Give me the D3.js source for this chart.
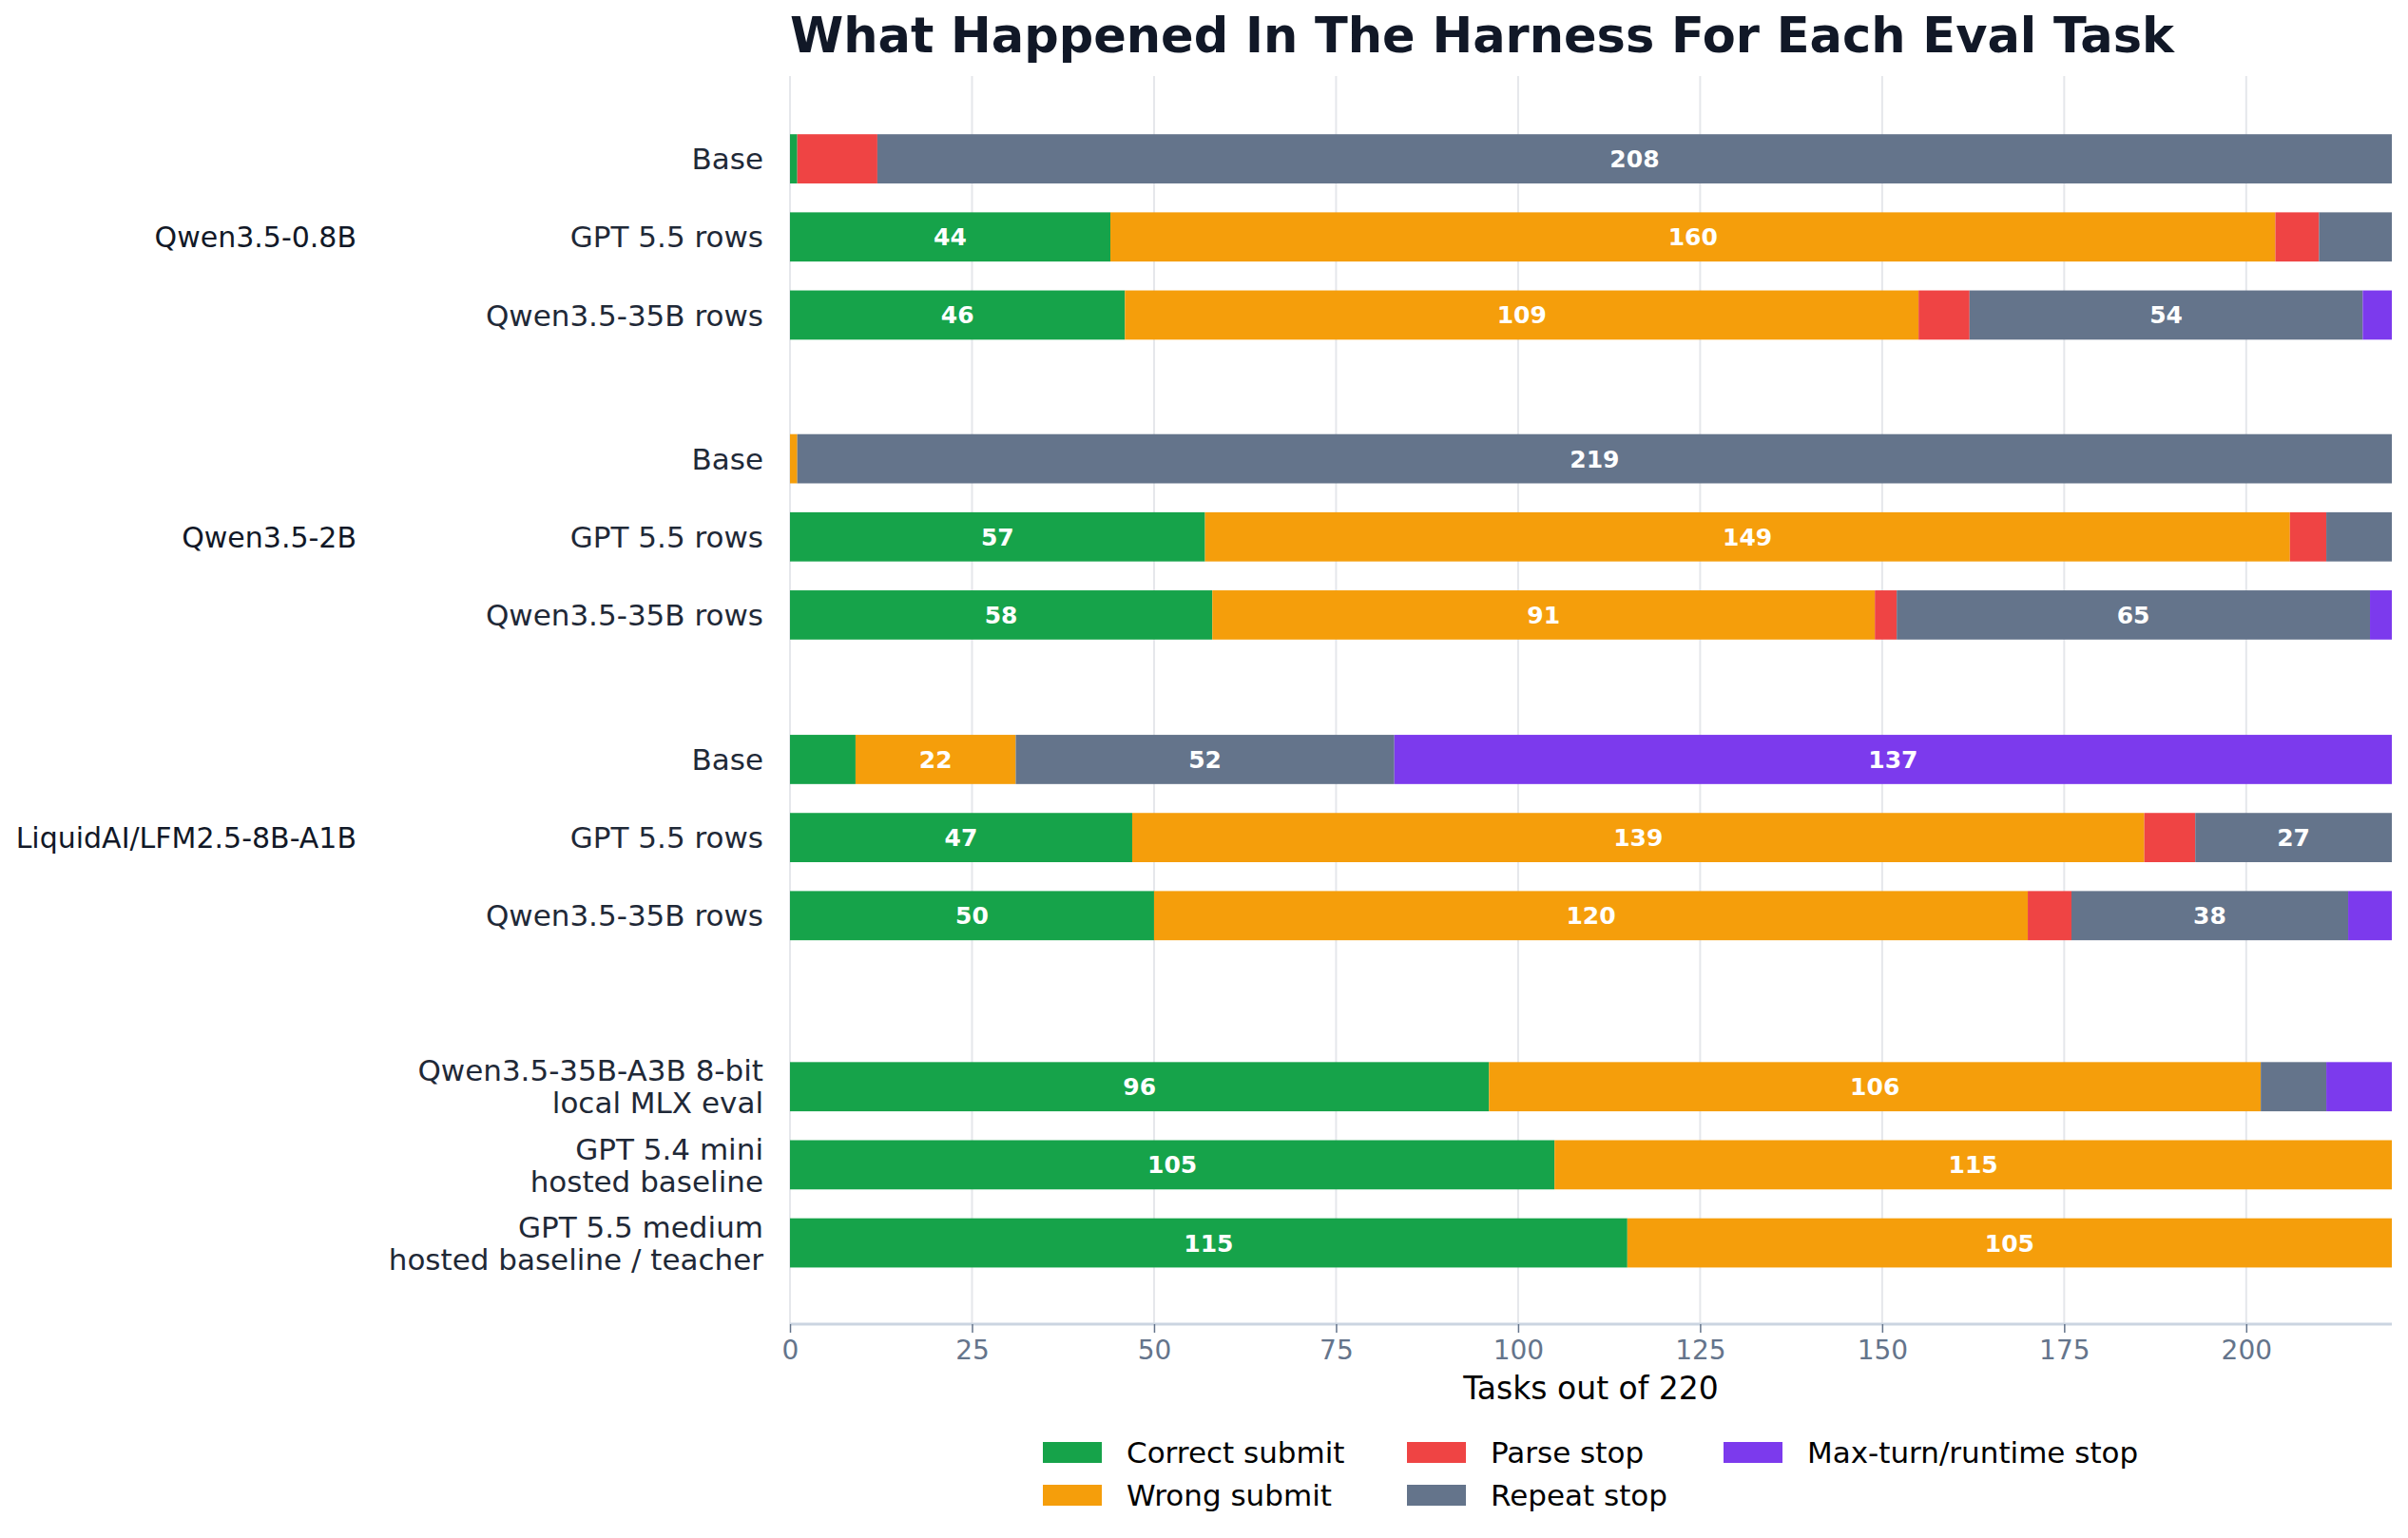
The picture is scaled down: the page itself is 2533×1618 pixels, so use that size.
<!DOCTYPE html>
<html>
<head>
<meta charset="utf-8">
<script src="https://cdn.jsdelivr.net/npm/d3@7/dist/d3.min.js"></script>
<style>
  body { margin: 0; background: #fff; }
  #chart { width: 2533px; height: 1618px; }
  text { font-family: "DejaVu Sans", sans-serif; }
</style>
</head>
<body>
<div id="chart"></div>
<script>
// outcome categories, in stacking order
var categories = ["Correct submit", "Wrong submit", "Parse stop", "Repeat stop", "Max-turn/runtime stop"];
var colors = ["#16a34a", "#f59e0b", "#ef4444", "#64748b", "#7c3aed"];

var groupNames = ["Qwen3.5-0.8B", "Qwen3.5-2B", "LiquidAI/LFM2.5-8B-A1B", ""];
var rowLabels = [
    "Base", "GPT 5.5 rows", "Qwen3.5-35B rows",
    "Base", "GPT 5.5 rows", "Qwen3.5-35B rows",
    "Base", "GPT 5.5 rows", "Qwen3.5-35B rows",
    "Qwen3.5-35B-A3B 8-bit\nlocal MLX eval",
    "GPT 5.4 mini\nhosted baseline",
    "GPT 5.5 medium\nhosted baseline / teacher"
];
var rowGroup = [0, 0, 0, 1, 1, 1, 2, 2, 2, 3, 3, 3];

var correctSubmit = [1, 44, 46, 0, 57, 58, 9, 47, 50, 96, 105, 115];
var wrongSubmit   = [0, 160, 109, 1, 149, 91, 22, 139, 120, 106, 115, 105];
var parseStop     = [11, 6, 7, 0, 5, 3, 0, 7, 6, 0, 0, 0];
var repeatStop    = [208, 10, 54, 219, 9, 65, 52, 27, 38, 9, 0, 0];
var maxTurnStop   = [0, 0, 4, 0, 0, 3, 137, 0, 6, 9, 0, 0];

var xTicks = [0, 25, 50, 75, 100, 125, 150, 175, 200];
var totalTasks = 220;

var series = [correctSubmit, wrongSubmit, parseStop, repeatStop, maxTurnStop];

var width = 2533, height = 1618;
var plotLeft = 831, plotRight = 2516, plotTop = 80, plotBottom = 1393;

var svg = d3.select("#chart")
    .append("svg")
    .attr("width", width)
    .attr("height", height);

var x = d3.scaleLinear()
    .domain([0, totalTasks])
    .range([plotLeft, plotRight]);

// slot positions: rows with a gap between model groups
var gapAfter = [0, 0.84, 1.69, 2.88];
var slots = rowLabels.map(function(d, i) { return i + gapAfter[rowGroup[i]]; });

var y = d3.scaleLinear()
    .domain([-1.06, 14.92])
    .range([plotTop, plotBottom]);

var barH = y(0.63) - y(0);

// grid
svg.append("g")
    .selectAll("line")
    .data(xTicks)
    .enter()
    .append("line")
        .attr("x1", function(d) { return x(d); })
        .attr("x2", function(d) { return x(d); })
        .attr("y1", plotTop)
        .attr("y2", plotBottom)
        .attr("stroke", "#e5e7eb")
        .attr("stroke-width", 2);

// stacked segments
var rows = rowLabels.map(function(label, i) {
    var start = 0;
    return series.map(function(s, k) {
        var seg = { row: i, cat: k, x0: start, x1: start + s[i], value: s[i] };
        start += s[i];
        return seg;
    });
});
var segs = d3.merge(rows).filter(function(d) { return d.value > 0; });

svg.append("g")
    .selectAll("rect")
    .data(segs)
    .enter()
    .append("rect")
        .attr("x", function(d) { return x(d.x0); })
        .attr("y", function(d) { return y(slots[d.row]) - barH / 2; })
        .attr("width", function(d) { return x(d.x1) - x(d.x0); })
        .attr("height", barH)
        .attr("fill", function(d) { return colors[d.cat]; });

svg.append("g")
    .selectAll("text")
    .data(segs.filter(function(d) { return d.value >= 20; }))
    .enter()
    .append("text")
        .attr("x", function(d) { return x((d.x0 + d.x1) / 2); })
        .attr("y", function(d) { return y(slots[d.row]); })
        .attr("dy", "0.36em")
        .attr("text-anchor", "middle")
        .attr("font-size", 25)
        .attr("font-weight", "bold")
        .attr("fill", "#fff")
        .text(function(d) { return d.value; });

// x axis
var xAxis = d3.axisBottom(x).tickValues(xTicks).tickSize(9).tickPadding(8);
var ax = svg.append("g")
    .attr("transform", "translate(0," + plotBottom + ")")
    .call(xAxis);
ax.select(".domain").attr("stroke", "#cbd5e1").attr("stroke-width", 3).attr("d", "M" + plotLeft + ",0H" + plotRight);
ax.selectAll(".tick line").attr("stroke", "#64748b").attr("stroke-width", 1.5);
ax.selectAll(".tick text")
    .attr("font-size", 28)
    .attr("fill", "#64748b")
    .style("font-family", "DejaVu Sans");

svg.append("text")
    .attr("x", (plotLeft + plotRight) / 2)
    .attr("y", 1472)
    .attr("text-anchor", "middle")
    .attr("font-size", 33)
    .attr("fill", "#000")
    .text("Tasks out of " + totalTasks);

// row labels
var lineH = 34;
svg.append("g")
    .selectAll("text")
    .data(rowLabels)
    .enter()
    .append("text")
        .attr("text-anchor", "end")
        .attr("font-size", 31)
        .attr("fill", "#1f2937")
        .each(function(d, i) {
            var lines = d.split("\n");
            var cy = y(slots[i]);
            var t = d3.select(this);
            lines.forEach(function(l, j) {
                t.append("tspan")
                    .attr("x", plotLeft - 28)
                    .attr("y", cy + (j - (lines.length - 1) / 2) * lineH)
                    .attr("dy", "0.36em")
                    .text(l);
            });
        });

// group labels on the middle row of each group
svg.append("g")
    .selectAll("text")
    .data(groupNames.filter(function(d) { return d !== ""; }))
    .enter()
    .append("text")
        .attr("x", 375)
        .attr("y", function(d, g) { return y(slots[g * 3 + 1]); })
        .attr("dy", "0.36em")
        .attr("text-anchor", "end")
        .attr("font-size", 30)
        .attr("fill", "#111827")
        .text(function(d) { return d; });

// title
svg.append("text")
    .attr("x", plotLeft)
    .attr("y", 55)
    .attr("font-size", 51)
    .attr("font-weight", "bold")
    .attr("fill", "#111827")
    .text("What Happened In The Harness For Each Eval Task");

// legend, 3 columns filled down
var legendX = [1097, 1480, 1813];
var legendY = [1528, 1573];
var legend = svg.append("g")
    .selectAll("g")
    .data(categories)
    .enter()
    .append("g")
        .attr("transform", function(d, i) {
            return "translate(" + legendX[Math.floor(i / 2)] + "," + legendY[i % 2] + ")";
        });
legend.append("rect")
    .attr("x", 0)
    .attr("y", -11)
    .attr("width", 62)
    .attr("height", 22)
    .attr("fill", function(d, i) { return colors[i]; });
legend.append("text")
    .attr("x", 88)
    .attr("dy", "0.36em")
    .attr("font-size", 31)
    .attr("fill", "#000")
    .text(function(d) { return d; });
</script>
</body>
</html>
